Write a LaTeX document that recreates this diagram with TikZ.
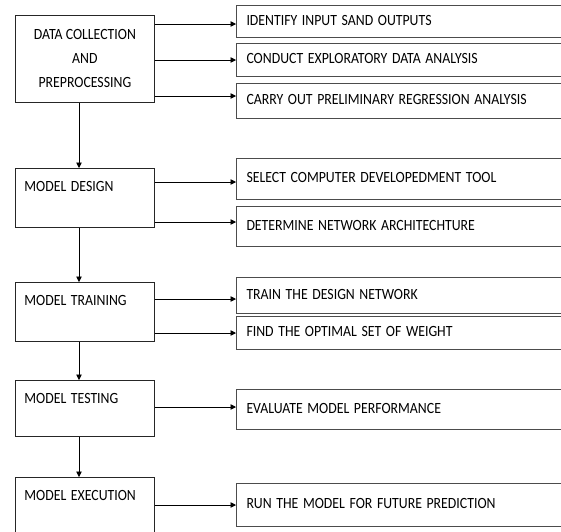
\documentclass[tikz,border=0pt]{standalone}
\usepackage{fontspec}
\setmainfont{Carlito}
\usetikzlibrary{arrows.meta}
\newcommand\vtx[1]{\scalebox{1}[1.13]{#1}}
\begin{document}
\begin{tikzpicture}[x=1pt,y=-1pt,
  every node/.style={font=\fontsize{13.8}{24}\selectfont},
  lbox/.style={draw=black!85, line width=0.8pt, anchor=north west, minimum width=139pt, text width=121pt, inner xsep=9pt, inner ysep=13.5pt, text height=10pt, align=left},
  rbox/.style={draw=black!70, line width=1pt, anchor=north west, minimum width=370pt, text width=350pt, inner xsep=9pt, align=left, text height=10pt, text depth=2.5pt},
  arr/.style={-{Triangle[length=5.5pt,width=5.5pt]}, line width=0.7pt, black}]
\useasboundingbox (0,0) rectangle (561,531);
\clip (0,0) rectangle (561,531);
% left column
\node[draw=black!85, line width=0.8pt, anchor=north west, minimum width=139pt, minimum height=87pt, align=center, inner sep=0pt] (d1) at (15,15) {\vtx{DATA COLLECTION}\\\vtx{AND}\\\vtx{PREPROCESSING}};
\node[lbox, text depth=22pt] (m2) at (15,168) {\vtx{MODEL DESIGN}};
\node[lbox, text depth=22pt] (m3) at (15,282) {\vtx{MODEL TRAINING}};
\node[lbox, text depth=19pt] (m4) at (15,380) {\vtx{MODEL TESTING}};
\node[lbox, text depth=26pt] (m5) at (15,477) {\vtx{MODEL EXECUTION}};
% right column
\node[rbox, minimum height=32pt] (r1) at (236,5) {\vtx{IDENTIFY INPUT SAND OUTPUTS}};
\node[rbox, minimum height=33pt] (r2) at (236,43) {\vtx{CONDUCT EXPLORATORY DATA ANALYSIS}};
\node[rbox, minimum height=35pt] (r3) at (236,83) {\vtx{CARRY OUT PRELIMINARY REGRESSION ANALYSIS}};
\node[rbox, minimum height=41pt] (r4) at (236,158) {\vtx{SELECT COMPUTER DEVELOPEDMENT TOOL}};
\node[rbox, minimum height=40pt] (r5) at (236,206) {\vtx{DETERMINE NETWORK ARCHITECHTURE}};
\node[rbox, minimum height=36pt] (r6) at (236,277) {\vtx{TRAIN THE DESIGN NETWORK}};
\node[rbox, minimum height=33pt] (r7) at (236,316) {\vtx{FIND THE OPTIMAL SET OF WEIGHT}};
\node[rbox, minimum height=40pt] (r8) at (236,389) {\vtx{EVALUATE MODEL PERFORMANCE}};
\node[rbox, minimum height=43pt] (r9) at (236,483) {\vtx{RUN THE MODEL FOR FUTURE PREDICTION}};
% horizontal arrows
\draw[arr] (d1.east |- 0,24) -- (r1.west |- 0,24);
\draw[arr] (d1.east |- 0,60) -- (r2.west |- 0,60);
\draw[arr] (d1.east |- 0,96) -- (r3.west |- 0,96);
\draw[arr] (m2.east |- 0,182) -- (r4.west |- 0,182);
\draw[arr] (m2.east |- 0,222) -- (r5.west |- 0,222);
\draw[arr] (m3.east |- 0,299) -- (r6.west |- 0,299);
\draw[arr] (m3.east |- 0,333) -- (r7.west |- 0,333);
\draw[arr] (m4.east |- 0,407) -- (r8.west |- 0,407);
\draw[arr] (m5.east |- 0,505) -- (r9.west |- 0,505);
% vertical arrows
\draw[arr] (d1.south -| 79,0) -- (m2.north -| 79,0);
\draw[arr] (m2.south -| 79,0) -- (m3.north -| 79,0);
\draw[arr] (m3.south -| 79,0) -- (m4.north -| 79,0);
\draw[arr] (m4.south -| 79,0) -- (m5.north -| 79,0);
\end{tikzpicture}
\end{document}
